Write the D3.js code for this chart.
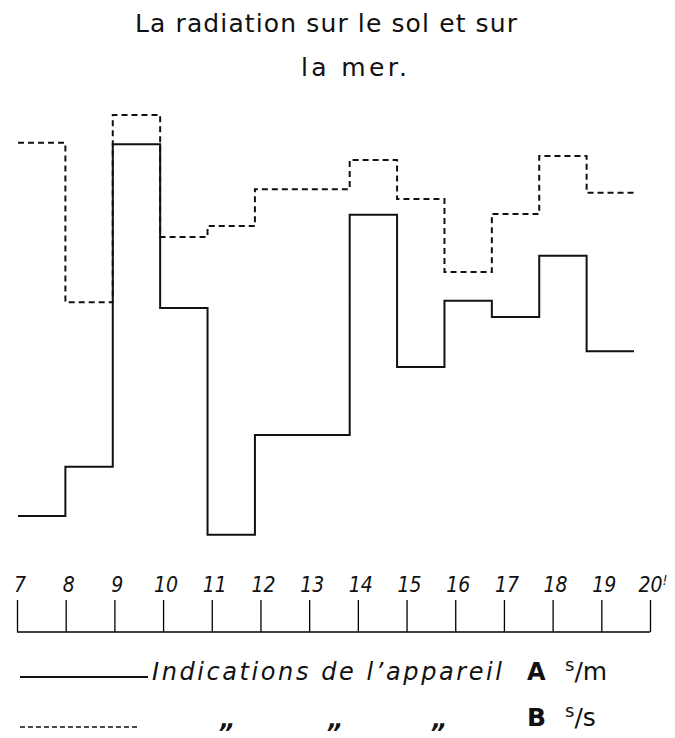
<!DOCTYPE html>
<html>
<head>
<meta charset="utf-8">
<script src="https://cdn.jsdelivr.net/npm/d3@7"></script>
<style>
  body { margin: 0; background: #fff; }
  svg { display: block; }
  text { font-family: "DejaVu Sans", sans-serif; fill: #111; }
</style>
</head>
<body>
<svg id="chart-svg" width="675" height="738"></svg>
<script>
// hours of the day (start of each interval)
const hours = [7, 8, 9, 10, 11, 12, 13, 14, 15, 16, 17, 18, 19];
// instrument A s/m (solid) and B s/s (dashed), relative units
const seriesA = [9.8, 20.7, 92.4, 56.0, 5.6, 27.8, 27.8, 76.7, 42.9, 57.6, 54.0, 67.6, 46.4];
const seriesB = [92.7, 57.3, 98.9, 71.8, 74.2, 82.4, 82.4, 88.9, 80.2, 64.0, 76.9, 89.8, 81.6];
const tickLabels = ["7", "8", "9", "10", "11", "12", "13", "14", "15", "16", "17", "18", "19", "20"];

const svg = d3.select("#chart-svg");

// axis scale and the (slightly narrower) scale the curves were drawn on
const xAxis = d3.scaleLinear().domain([7, 20]).range([17, 650]);
const x = d3.scaleLinear().domain([7, 20]).range([18, 634]);
const y = d3.scaleLinear().domain([0, 100]).range([560, 110]);

// title
svg.append("text")
    .attr("x", 135).attr("y", 32)
    .attr("textLength", 382)
    .attr("lengthAdjust", "spacing")
    .style("font-size", "25px")
    .text("La radiation sur le sol et sur");
svg.append("text")
    .attr("x", 301).attr("y", 76)
    .attr("textLength", 106)
    .attr("lengthAdjust", "spacing")
    .style("font-size", "25px")
    .text("la mer.");

const stepData = vals => hours.map((h, i) => ({ h: h, v: vals[i] }))
    .concat([{ h: 20, v: vals[vals.length - 1] }]);

const line = d3.line()
    .x(d => x(d.h))
    .y(d => y(d.v))
    .curve(d3.curveStepAfter);

svg.append("path")
    .datum(stepData(seriesB))
    .attr("fill", "none")
    .attr("stroke", "#111")
    .attr("stroke-width", 2)
    .attr("stroke-dasharray", "6,4")
    .attr("d", line);

svg.append("path")
    .datum(stepData(seriesA))
    .attr("fill", "none")
    .attr("stroke", "#111")
    .attr("stroke-width", 2)
    .attr("d", line);

// time axis: ticks pointing up from a base line
const axisY = 632;
const axis = svg.append("g")
    .attr("transform", `translate(0, ${axisY})`)
    .call(d3.axisTop(xAxis)
        .tickValues(d3.range(7, 21))
        .tickSize(32)
        .tickFormat(""));
axis.select(".domain").attr("d", `M${xAxis(7)},0H${xAxis(20)}`).attr("stroke-width", 1.5);
axis.selectAll(".tick line").attr("stroke-width", 1.3);

svg.append("g").selectAll("text")
    .data(tickLabels)
    .enter()
    .append("text")
    .attr("x", (d, i) => xAxis(7 + i) + 3)
    .attr("y", 592)
    .attr("text-anchor", "middle")
    .style("font-family", "'DejaVu Sans Condensed', sans-serif")
    .style("font-size", "21px")
    .style("font-style", "italic")
    .text(d => d)
    .filter(d => d === "20")
    .append("tspan")
    .attr("dy", -7)
    .style("font-size", "14px")
    .text("!");

// legend
const leg1 = 680, leg2 = 726;
svg.append("line")
    .attr("x1", 20).attr("x2", 148)
    .attr("y1", leg1 - 3).attr("y2", leg1 - 3)
    .attr("stroke", "#111").attr("stroke-width", 2);
svg.append("text")
    .attr("x", 152).attr("y", leg1)
    .attr("textLength", 350)
    .attr("lengthAdjust", "spacing")
    .style("font-size", "24px")
    .style("font-style", "italic")
    .text("Indications de l\u2019appareil");
svg.append("text")
    .attr("x", 527).attr("y", leg1)
    .style("font-size", "24px")
    .style("font-weight", "bold")
    .text("A");
const sm = svg.append("text")
    .attr("x", 565).attr("y", leg1)
    .style("font-size", "25px");
sm.append("tspan").attr("dy", -9).style("font-size", "18px").text("s");
sm.append("tspan").attr("dy", 9).text("/m");

svg.append("line")
    .attr("x1", 20).attr("x2", 140)
    .attr("y1", leg2 + 1).attr("y2", leg2 + 1)
    .attr("stroke", "#111").attr("stroke-width", 1.5)
    .attr("stroke-dasharray", "5,3");
svg.selectAll(".ditto")
    .data([228, 336, 440])
    .enter()
    .append("text")
    .attr("class", "ditto")
    .attr("x", d => d).attr("y", leg2 + 2)
    .attr("text-anchor", "middle")
    .style("font-size", "24px")
    .style("font-style", "italic")
    .style("font-weight", "bold")
    .text("\u201e");
svg.append("text")
    .attr("x", 527).attr("y", leg2)
    .style("font-size", "25px")
    .style("font-weight", "bold")
    .text("B");
const ss = svg.append("text")
    .attr("x", 565).attr("y", leg2)
    .style("font-size", "25px");
ss.append("tspan").attr("dy", -9).style("font-size", "18px").text("s");
ss.append("tspan").attr("dy", 9).text("/s");
</script>
</body>
</html>
